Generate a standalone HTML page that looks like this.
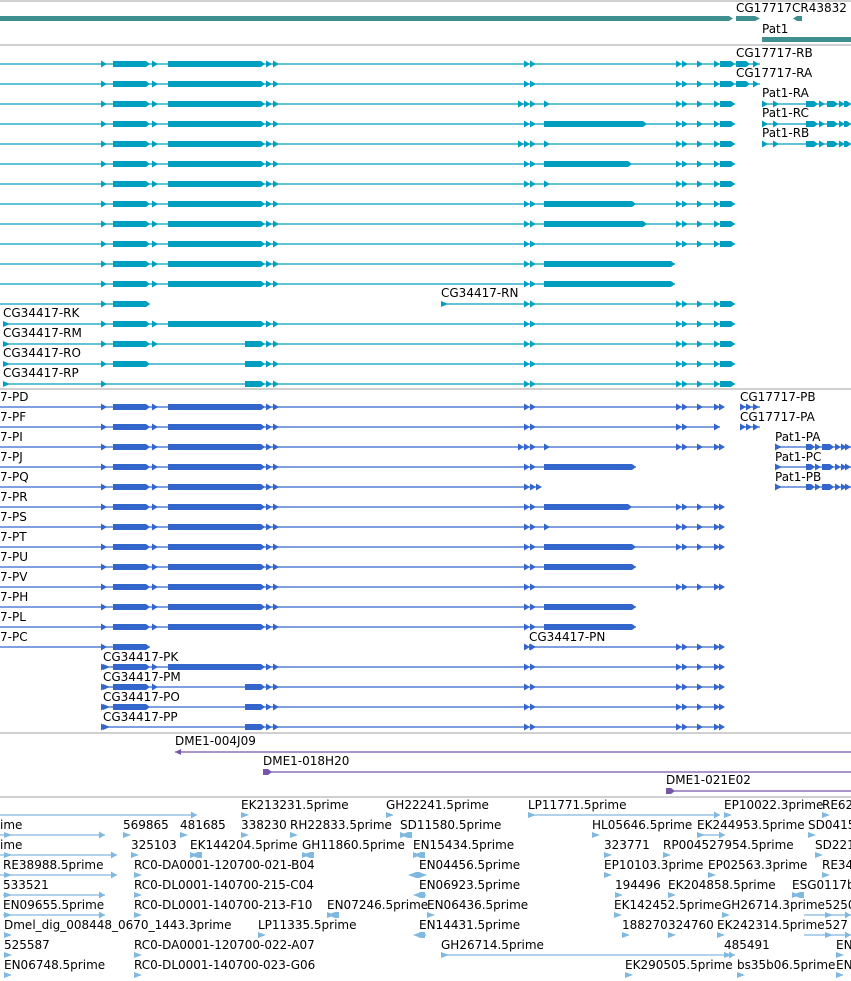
<!DOCTYPE html>
<html><head><meta charset="utf-8"><style>
html,body{margin:0;padding:0;background:#fff;width:851px;height:981px;overflow:hidden}
svg{display:block}
text{font-family:"DejaVu Sans","Liberation Sans",sans-serif;font-size:12px;fill:#000}
</style></head><body>
<svg id="gb" width="851" height="981" viewBox="0 0 851 981" xmlns="http://www.w3.org/2000/svg">
<g stroke="#c0c0c0" stroke-width="1.5">
<line x1="0" y1="1" x2="851" y2="1"/><line x1="0" y1="45" x2="851" y2="45"/>
<line x1="0" y1="389" x2="851" y2="389"/><line x1="0" y1="733" x2="851" y2="733"/>
<line x1="0" y1="797" x2="851" y2="797"/>
</g>
<g fill="#408f90">
<polygon points="0,16 729,16 733,18.5 729,21 0,21"/>
<polygon points="736,16 755,16 760,18.5 755,21 736,21"/>
<polygon points="793,18.5 797,16 802,16 802,21 797,21"/>
<rect x="762" y="37" width="89" height="5"/>
<text x="736" y="12">CG17717</text>
<text x="792" y="12">CR43832</text>
<text x="762" y="33">Pat1</text>
</g>
<g id="rows"></g>
</svg>
<script>
// Transcript feature data (pixel positions along the genomic axis)
const RNA_ROWS = [64,84,104,124,144,164,184,204,224,244,264,284,304,324,344,364,384];
const PROT_ROWS = [407,427,447,467,487,507,527,547,567,587,607,627,647,667,687,707,727];
const LEFT_FULL = {ex:[[113,150],[168,265]], ar:[101,152,266,273]};
const RIGHT_RNA = {ex:[[720,735]], ar:[524,530,676,682,697,714]};
const RIGHT_PRO = {ex:[], ar:[524,530,676,682,697,714,719]};
const NS='http://www.w3.org/2000/svg';
const root=document.getElementById('rows');
function mk(tag,attrs,parent){const e=document.createElementNS(NS,tag);for(const k in attrs)e.setAttribute(k,attrs[k]);(parent||root).appendChild(e);return e;}
function feat(name,y,x1,x2,ex,ar,col,startMark){
  const g=mk('g',{});
  
  
  const l=mk('line',{x1:x1,y1:y,x2:x2,y2:y,stroke:col,'stroke-width':1.3},g);
  
  
  if(startMark){const s=mk('polygon',{points:`${x1},${y-3} ${x1+7},${y} ${x1},${y+3}`,fill:col},g);
    
    }
  ex.forEach(e=>{const p=mk('polygon',{points:`${e[0]},${y-3} ${e[1]-4},${y-3} ${e[1]},${y} ${e[1]-4},${y+3} ${e[0]},${y+3}`,fill:col},g);
    
    });
  ar.forEach(a=>{const p=mk('polygon',{points:`${a},${y-3.5} ${a+6},${y} ${a},${y+3.5}`,fill:col},g);
    
    });
}
function label(t,x,y,name){const e=mk('text',{x:x,y:y+4});e.textContent=t;
  
  }
function merge(){const r={ex:[],ar:[]};for(const p of arguments){r.ex=r.ex.concat(p.ex);r.ar=r.ar.concat(p.ar);}return r;}

// RNA track
const C1='#009fc0';
const rnaSpecs=[
 merge(LEFT_FULL,RIGHT_RNA),merge(LEFT_FULL,RIGHT_RNA),
 merge(LEFT_FULL,{ex:[[720,735]],ar:[518,524,530,544,676,682,697,714]}),
 merge(LEFT_FULL,RIGHT_RNA,{ex:[[544,647]],ar:[]}),
 merge(LEFT_FULL,{ex:[[720,735]],ar:[518,524,530,544,676,682,697,714]}),
 merge(LEFT_FULL,RIGHT_RNA,{ex:[[544,632]],ar:[]}),
 merge(LEFT_FULL,RIGHT_RNA,{ex:[],ar:[544]}),
 merge(LEFT_FULL,RIGHT_RNA,{ex:[[544,636]],ar:[]}),
 merge(LEFT_FULL,RIGHT_RNA,{ex:[[544,647]],ar:[]}),
 merge(LEFT_FULL,RIGHT_RNA),
 merge(LEFT_FULL,{ex:[[544,675]],ar:[524,530]}),
 merge(LEFT_FULL,{ex:[[544,675]],ar:[524,530]}),
 {ex:[[113,150]],ar:[101]},
 merge(LEFT_FULL,RIGHT_RNA),
 merge({ex:[[113,150],[245,265]],ar:[101,152,266,273]},RIGHT_RNA),
 merge({ex:[[113,150],[245,265]],ar:[101,266,273]},RIGHT_RNA),
 merge({ex:[[245,265]],ar:[101,266,273]},RIGHT_RNA)];
const rnaEnds=[760,760,735,735,735,735,735,735,735,735,675,675,150,735,735,735,735];
const rnaStarts=[0,0,0,0,0,0,0,0,0,0,0,0,0,3,3,3,3];
const rnaNames=['RE','RF','RI','RJ','RQ','RR','RS','RT','RU','RV','RH','RL','RC','RK','RM','RO','RP'];
RNA_ROWS.forEach((y,i)=>{let s=rnaSpecs[i];
  if(i<2)s=merge(s,{ex:[[736,750]],ar:[753]});
  feat('transcript-cg34417-'+rnaNames[i].toLowerCase(),y,rnaStarts[i],rnaEnds[i],s.ex,s.ar,C1,rnaStarts[i]>0);});
feat('transcript-cg34417-rn',304,441,735,RIGHT_RNA.ex,RIGHT_RNA.ar,C1,true);
[['RK',313],['RM',333],['RO',353],['RP',373]].forEach(a=>label('CG34417-'+a[0],3,a[1],'label-cg34417-'+a[0].toLowerCase()));
label('CG34417-RN',441,293,'label-cg34417-rn');
label('CG17717-RB',736,53,'label-cg17717-rb');label('CG17717-RA',736,73,'label-cg17717-ra');
[['RA',104],['RC',124],['RB',144]].forEach(a=>{
  feat('transcript-pat1-'+a[0].toLowerCase(),a[1],762,851,[[806,818],[827,838],[844,851]],[762,773,819,839],C1,false);
  label('Pat1-'+a[0],762,a[1]-11,'label-pat1-'+a[0].toLowerCase());});

// Protein track
const C2='#3366cc';
const protSpecs=[
 merge(LEFT_FULL,RIGHT_PRO),
 merge(LEFT_FULL,{ex:[],ar:[524,530,676,682,714]}),
 merge(LEFT_FULL,{ex:[],ar:[518,524,530,544,676,682,697,714,719]}),
 merge(LEFT_FULL,{ex:[[544,636]],ar:[524,530]}),
 merge(LEFT_FULL,{ex:[],ar:[524,530,536]}),
 merge(LEFT_FULL,RIGHT_PRO,{ex:[[544,632]],ar:[]}),
 merge(LEFT_FULL,RIGHT_PRO,{ex:[],ar:[544]}),
 merge(LEFT_FULL,RIGHT_PRO,{ex:[[544,636]],ar:[]}),
 merge(LEFT_FULL,{ex:[[544,636]],ar:[524,530]}),
 merge(LEFT_FULL,RIGHT_PRO),
 merge(LEFT_FULL,{ex:[[544,636]],ar:[524,530]}),
 merge(LEFT_FULL,{ex:[[544,636]],ar:[524,530]}),
 {ex:[[113,150]],ar:[101]},
 merge(LEFT_FULL,RIGHT_PRO),
 merge({ex:[[113,150],[245,265]],ar:[101,152,266,273]},RIGHT_PRO),
 merge({ex:[[113,150],[245,265]],ar:[101,266,273]},RIGHT_PRO),
 merge({ex:[[245,265]],ar:[101,266,273]},RIGHT_PRO)];
const protEnds=[724,720,724,636,538,724,724,724,636,724,636,636,150,724,724,724,724];
const protStarts=[0,0,0,0,0,0,0,0,0,0,0,0,0,103,103,103,103];
const protNames=['PD','PF','PI','PJ','PQ','PR','PS','PT','PU','PV','PH','PL','PC','PK','PM','PO','PP'];
PROT_ROWS.forEach((y,i)=>{const s=protSpecs[i];
  feat('protein-cg34417-'+protNames[i].toLowerCase(),y,protStarts[i],protEnds[i],s.ex,s.ar,C2,protStarts[i]>0);
  if(i<13)label('7-'+protNames[i],0,y-10,'label-cg34417-'+protNames[i].toLowerCase());});
feat('protein-cg34417-pn',647,529,724,RIGHT_PRO.ex,RIGHT_PRO.ar,C2,true);
label('CG34417-PN',529,637,'label-cg34417-pn');
[['PK',657],['PM',677],['PO',697],['PP',717]].forEach(a=>label('CG34417-'+a[0],103,a[1],'label-cg34417-'+a[0].toLowerCase()));
[['PB',407],['PA',427]].forEach(a=>{
  feat('protein-cg17717-'+a[0].toLowerCase(),a[1],740,760,[],[740,746,753],C2,false);
  label('CG17717-'+a[0],740,a[1]-10,'label-cg17717-'+a[0].toLowerCase());});
[['PA',447],['PC',467],['PB',487]].forEach(a=>{
  feat('protein-pat1-'+a[0].toLowerCase(),a[1],775,851,[[806,815],[822,834]],[775,815,835,841,845],C2,true);
  label('Pat1-'+a[0],775,a[1]-10,'label-pat1-'+a[0].toLowerCase());});

// Clone track
const C3='#7755aa';
const cloneNames=['DME1-004J09','DME1-018H20','DME1-021E02'];
const cloneStarts=[175,263,666];
const cloneRows=[752,772,791];
cloneNames.forEach((n,i)=>{const y=cloneRows[i],x=cloneStarts[i];
  feat('clone-'+n.toLowerCase(),y,x,851,[],[],C3,false);
  const p=mk('polygon',{points:i==0?`${x},${y} ${x+6},${y-3} ${x+6},${y+3}`:`${x},${y-3} ${x+5},${y-3} ${x+9},${y} ${x+5},${y+3} ${x},${y+3}`,fill:C3});
  
  
  label(n,x,y-11,'label-clone-'+n.toLowerCase());});

// EST track: [label, x, row, reverse]
const C4='#80b8e0';
const EST_ROWS=[805,825,845,865,885,905,925,945,965];
const estLabels=[
 ['EK213231.5prime',241,0],['GH22241.5prime',386,0],['LP11771.5prime',528,0],['EP10022.3prime',724,0],['RE62',822,0],
 ['ime',0,1],['569865',123,1],['481685',180,1],['338230',241,1],['RH22833.5prime',290,1],['SD11580.5prime',400,1],['HL05646.5prime',592,1],['EK244953.5prime',697,1],['SD0415',808,1],
 ['ime',0,2],['325103',131,2],['EK144204.5prime',190,2],['GH11860.5prime',302,2],['EN15434.5prime',413,2],['323771',604,2],['RP004527954.5prime',663,2],['SD221',815,2],
 ['RE38988.5prime',3,3],['RC0-DA0001-120700-021-B04',134,3],['EN04456.5prime',419,3],['EP10103.3prime',604,3],['EP02563.3prime',708,3],['RE34',822,3],
 ['533521',3,4],['RC0-DL0001-140700-215-C04',134,4],['EN06923.5prime',419,4],['194496',615,4],['EK204858.5prime',668,4],['ESG0117b',792,4],
 ['EN09655.5prime',3,5],['RC0-DL0001-140700-213-F10',134,5],['EN07246.5prime',327,5],['EN06436.5prime',427,5],['EK142452.5prime',614,5],['GH26714.3prime',722,5],['5250',825,5],
 ['Dmel_dig_008448_0670_1443.3prime',4,6],['LP11335.5prime',258,6],['EN14431.5prime',419,6],['188270',622,6],['324760',668,6],['EK242314.5prime',717,6],['527',825,6],
 ['525587',4,7],['RC0-DA0001-120700-022-A07',134,7],['GH26714.5prime',441,7],['485491',724,7],['EN',836,7],
 ['EN06748.5prime',4,8],['RC0-DL0001-140700-023-G06',134,8],['EK290505.5prime',625,8],['bs35b06.5prime',737,8],['EN',836,8]];
// EST alignment spans: [x1, x2, row]
const estSpans=[[0,197,0],[528,720,0],[0,105,1],[697,725,1],[0,117,2],[0,117,3],[3,105,5],[3,105,4],[441,735,7],[804,851,5],[804,851,6]];
const estRev=[[400,1],[190,2],[302,2],[413,2],[327,5],[413,4],[792,4],[408,3],[413,6]];
estSpans.forEach(s=>feat('est-alignment',EST_ROWS[s[2]]+10,s[0],s[1],[],[s[1]-6],C4,false));
estLabels.forEach(a=>{const y=EST_ROWS[a[2]];
  label(a[0],a[1],y,'label-est-'+a[0].toLowerCase());
  const gx=a[1]<5?4:a[1];
  const p=mk('polygon',{points:`${gx},${y+7} ${gx+8},${y+10} ${gx},${y+13}`,fill:C4});
  
  });
estRev.forEach(r=>{const y=EST_ROWS[r[1]]+10,x=r[0];
  const p=mk('polygon',{points:`${x},${y} ${x+8},${y-3} ${x+12},${y-3} ${x+12},${y+3} ${x+8},${y+3}`,fill:C4});
  
  });
</script>
</body></html>
